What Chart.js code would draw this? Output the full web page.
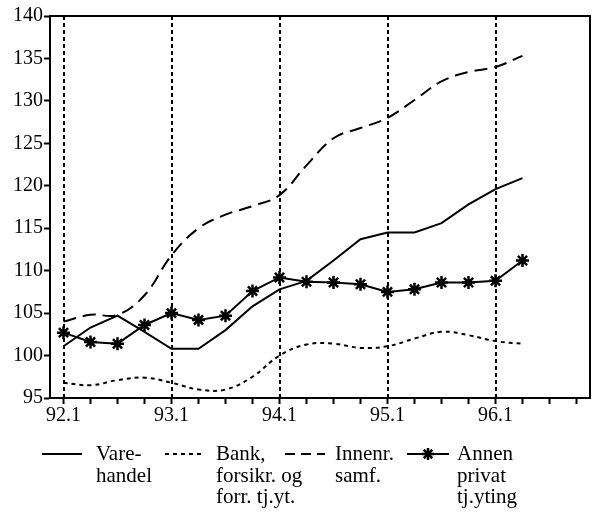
<!DOCTYPE html>
<html>
<head>
<meta charset="utf-8">
<script src="https://cdn.jsdelivr.net/npm/chart.js@4/dist/chart.umd.min.js"></script>
<style>
  html, body { margin: 0; padding: 0; background: #fff; }
  #wrap { position: relative; width: 599px; height: 520px; }
  .lg { position: absolute; font-family: "Liberation Serif", "Times New Roman", serif; font-size: 21px; line-height: 21.5px; color: #000; white-space: pre; }
  #samples { position: absolute; left: 0; top: 0; }
</style>
</head>
<body>
<div id="wrap">
  <canvas id="c" width="599" height="520"></canvas>
  <svg id="samples" width="599" height="520"></svg>
  <div class="lg" style="left:96px;top:443px;">Vare-
handel</div>
  <div class="lg" style="left:216px;top:443px;">Bank,
forsikr. og
forr. tj.yt.</div>
  <div class="lg" style="left:335px;top:443px;">Innenr.
samf.</div>
  <div class="lg" style="left:457px;top:443px;">Annen
privat
tj.yting</div>
</div>
<script>
const categories = ["92.1","92.2","92.3","92.4","93.1","93.2","93.3","93.4","94.1","94.2","94.3","94.4","95.1","95.2","95.3","95.4","96.1","96.2","96.3","96.4"];
const varehandel = [101.1,103.3,104.7,102.8,100.8,100.8,103.0,105.8,107.8,108.8,111.2,113.7,114.5,114.5,115.6,117.8,119.6,120.9];
const bank       = [96.8,96.5,97.1,97.4,96.8,96.0,96.0,97.5,100.0,101.3,101.4,100.9,101.1,102.0,102.8,102.4,101.7,101.4];
const innenr     = [104.0,104.8,104.8,107.1,111.8,115.0,116.6,117.6,118.9,122.4,125.6,126.8,128.0,130.1,132.3,133.4,134.0,135.3];
const annen      = [102.7,101.6,101.4,103.6,105.0,104.2,104.7,107.6,109.2,108.7,108.6,108.4,107.5,107.8,108.6,108.6,108.8,111.2];
const yTicks = { min: 95, max: 140, step: 5 };
const seriesLabels = ["Vare-handel", "Bank, forsikr. og forr. tj.yt.", "Innenr. samf.", "Annen privat tj.yting"];

const FONT = { family: "'Liberation Serif', 'Times New Roman', serif", size: 20 };

const framePlugin = {
  id: 'frame',
  beforeDatasetsDraw(chart) {
    const {ctx, chartArea, scales} = chart;
    ctx.save();
    ctx.strokeStyle = '#000';
    ctx.lineWidth = 2;
    ctx.setLineDash([4, 3]);
    categories.forEach((c, i) => {
      if (c.endsWith('.1')) {
        const x = Math.round(scales.x.getPixelForValue(i));
        ctx.beginPath();
        ctx.moveTo(x, chartArea.top);
        ctx.lineTo(x, chartArea.bottom);
        ctx.stroke();
      }
    });
    ctx.restore();
  },
  afterDraw(chart) {
    const {ctx, chartArea} = chart;
    ctx.save();
    ctx.strokeStyle = '#000';
    ctx.lineWidth = 2;
    ctx.setLineDash([]);
    ctx.strokeRect(chartArea.left, chartArea.top, chartArea.right - chartArea.left, chartArea.bottom - chartArea.top);
    ctx.restore();
  }
};

new Chart(document.getElementById('c'), {
  type: 'line',
  data: {
    labels: categories,
    datasets: [
      { label: seriesLabels[0], data: varehandel, borderColor: '#000', borderWidth: 2, pointRadius: 0, tension: 0, fill: false },
      { label: seriesLabels[1], data: bank, borderColor: '#000', borderWidth: 2, borderDash: [4, 4], pointRadius: 0, tension: 0.4, fill: false },
      { label: seriesLabels[2], data: innenr, borderColor: '#000', borderWidth: 2, borderDash: [13, 7], pointRadius: 0, tension: 0.4, fill: false },
      { label: seriesLabels[3], data: annen, borderColor: '#000', borderWidth: 2, pointStyle: 'star', pointRadius: 6.5, pointBorderWidth: 2.5, pointBorderColor: '#000', pointBackgroundColor: '#000', tension: 0, fill: false }
    ]
  },
  options: {
    responsive: false,
    animation: false,
    layout: { padding: { top: 16, right: 7, left: 0, bottom: 0 } },
    plugins: { legend: { display: false }, tooltip: { enabled: false } },
    scales: {
      x: {
        type: 'category',
        offset: true,
        grid: { drawOnChartArea: false, drawTicks: true, tickLength: 6, tickColor: '#000', tickWidth: 2, offset: false },
        border: { display: true, color: '#000', width: 2 },
        ticks: {
          color: '#000', font: FONT, autoSkip: false, maxRotation: 0, padding: 0,
          callback: function(v, i) { const l = categories[i]; return l.endsWith('.1') ? l : ''; }
        },
        afterFit(scale) { scale.height = 122; }
      },
      y: {
        min: yTicks.min, max: yTicks.max,
        grid: { drawOnChartArea: false, drawTicks: true, tickLength: 6, tickColor: '#000', tickWidth: 2 },
        border: { display: true, color: '#000', width: 2 },
        ticks: { stepSize: yTicks.step, color: '#000', font: FONT, padding: 1 },
        afterFit(scale) { scale.width = 50; }
      }
    }
  },
  plugins: [framePlugin]
});

// Legend line samples
const svg = document.getElementById('samples');
const NS = 'http://www.w3.org/2000/svg';
function line(x1, x2, y, dash) {
  const l = document.createElementNS(NS, 'line');
  l.setAttribute('x1', x1); l.setAttribute('x2', x2);
  l.setAttribute('y1', y); l.setAttribute('y2', y);
  l.setAttribute('stroke', '#000'); l.setAttribute('stroke-width', '2');
  if (dash) l.setAttribute('stroke-dasharray', dash);
  svg.appendChild(l);
}
line(42, 82, 454, null);
line(165, 205, 454, '4 4');
line(285, 325, 454, '10 6');
line(407, 449, 454, null);
// star marker sample
const cx = 428, cy = 454, r = 6;
for (let k = 0; k < 4; k++) {
  const a = k * Math.PI / 4;
  const l = document.createElementNS(NS, 'line');
  l.setAttribute('x1', cx - r * Math.cos(a)); l.setAttribute('y1', cy - r * Math.sin(a));
  l.setAttribute('x2', cx + r * Math.cos(a)); l.setAttribute('y2', cy + r * Math.sin(a));
  l.setAttribute('stroke', '#000'); l.setAttribute('stroke-width', '2.5');
  svg.appendChild(l);
}
</script>
</body>
</html>
